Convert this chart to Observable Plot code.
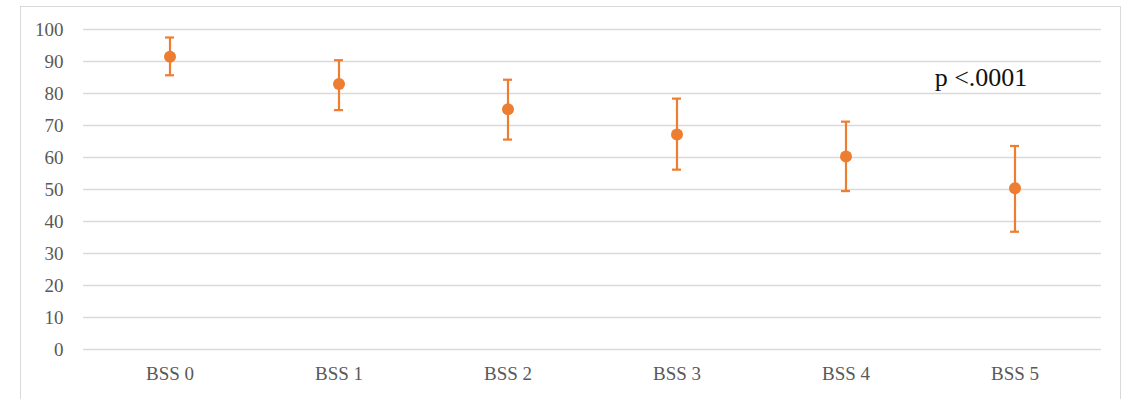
<!DOCTYPE html>
<html>
<head>
<meta charset="utf-8">
<script src="https://cdn.jsdelivr.net/npm/d3@7"></script>
<script src="https://cdn.jsdelivr.net/npm/@observablehq/plot@0.6"></script>
<style>
  html, body { margin: 0; padding: 0; background: #fff; overflow: hidden; }
  #wrap { position: relative; width: 1132px; height: 399px; }
  #border { position: absolute; left: 20px; top: 6px; width: 1101px; height: 400px; border: 1px solid #d9d9d9; box-sizing: border-box; }
  #chart { position: absolute; left: 0; top: 0; }
  #chart svg text { font-family: "Liberation Serif", "Times New Roman", serif; }
</style>
</head>
<body>
<div id="wrap"><div id="border"></div><div id="chart"></div></div>
<script>
const categories = ["BSS 0", "BSS 1", "BSS 2", "BSS 3", "BSS 4", "BSS 5"];
const means = [91.5, 83.0, 75.1, 67.2, 60.3, 50.4];
const upper = [97.5, 90.4, 84.3, 78.4, 71.2, 63.6];
const lower = [85.7, 74.8, 65.6, 56.2, 49.5, 36.8];
const yTicks = [0, 10, 20, 30, 40, 50, 60, 70, 80, 90, 100];
const annotation = "p <.0001";

const data = categories.map((c, i) => ({cat: c, mean: means[i], hi: upper[i], lo: lower[i]}));
const orange = "#ED7D31";
const font = "Liberation Serif";

const plot = Plot.plot({
  width: 1132,
  height: 399,
  marginLeft: 83,
  marginRight: 31,
  marginTop: 29,
  marginBottom: 50,
  style: {fontFamily: font, fontSize: "19px", color: "#595959", background: "transparent"},
  x: {type: "band", domain: categories, padding: 0, label: null},
  y: {domain: [0, 100], label: null},
  marks: [
    Plot.ruleY(yTicks, {stroke: "#d9d9d9", strokeWidth: 1.5}),
    Plot.axisY({ticks: yTicks, tickSize: 0, tickPadding: 20, fontSize: 19, fontFamily: font, fill: "#595959", label: null}),
    Plot.axisX({tickSize: 0, tickPadding: 17, fontSize: 19, fontFamily: font, fill: "#595959", label: null}),
    Plot.ruleX(data, {x: "cat", y1: "lo", y2: "hi", stroke: orange, strokeWidth: 2.2}),
    Plot.tickY(data, {x: "cat", y: "hi", stroke: orange, strokeWidth: 2.2, insetLeft: 80, insetRight: 80}),
    Plot.tickY(data, {x: "cat", y: "lo", stroke: orange, strokeWidth: 2.2, insetLeft: 80, insetRight: 80}),
    Plot.dot(data, {x: "cat", y: "mean", r: 6, fill: orange}),
    Plot.text([annotation], {x: () => "BSS 5", y: () => 85, text: d => d, dx: -34, fontSize: 26, fill: "#111", fontFamily: font})
  ]
});
document.getElementById("chart").appendChild(plot);
</script>
</body>
</html>
